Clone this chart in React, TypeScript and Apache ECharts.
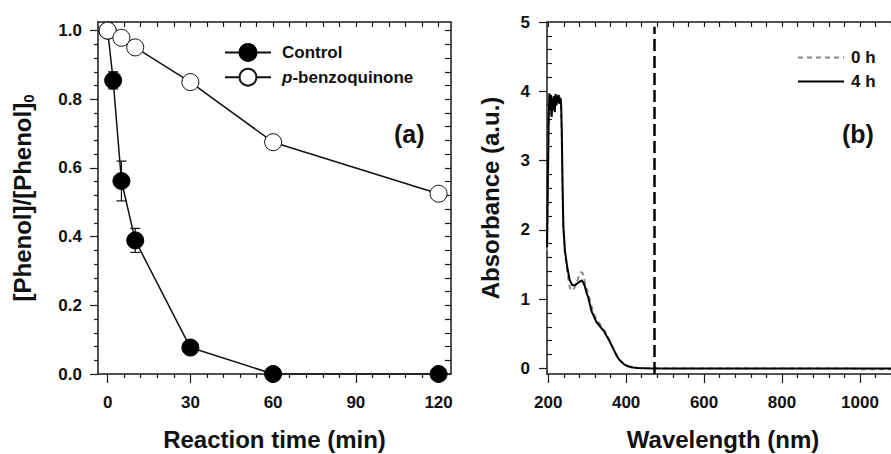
import React, { useEffect, useRef } from 'react';
import * as echarts from 'echarts';

// ---------- Panel (a) data ----------
const controlTime = [0, 2, 5, 10, 30, 60, 120];
const controlValues = [1.0, 0.855, 0.562, 0.389, 0.077, 0.0, 0.0];
const controlErrors = [0, 0.025, 0.058, 0.035, 0, 0, 0];
const pbqTime = [0, 5, 10, 30, 60, 120];
const pbqValues = [1.0, 0.979, 0.951, 0.85, 0.675, 0.525];

const timeMajorTicks = [0, 30, 60, 90, 120];
const timeMinorTicks = [6, 12, 18, 24, 36, 42, 48, 54, 66, 72, 78, 84, 96, 102, 108, 114];
const timeTopTicks = [0, 6, 12, 18, 24, 30, 36, 42, 48, 54, 60, 66, 72, 78, 84, 90, 96, 102, 108, 114, 120];
const ratioMajorTicks = [0, 0.2, 0.4, 0.6, 0.8, 1.0];
const ratioMinorTicks = [0.04, 0.08, 0.12, 0.16, 0.24, 0.28, 0.32, 0.36, 0.44, 0.48, 0.52, 0.56, 0.64, 0.68, 0.72, 0.76, 0.84, 0.88, 0.92, 0.96];
const ratioAllTicks = [0, 0.04, 0.08, 0.12, 0.16, 0.2, 0.24, 0.28, 0.32, 0.36, 0.4, 0.44, 0.48, 0.52, 0.56, 0.6, 0.64, 0.68, 0.72, 0.76, 0.8, 0.84, 0.88, 0.92, 0.96, 1.0];

// ---------- Panel (b) data ----------
const wavelength0h = [197, 199, 201, 203, 205, 207, 209, 211, 213, 215, 217, 219, 221, 223, 225, 227, 229, 231, 233, 235, 237, 239, 243, 249, 255, 260, 266, 272, 278, 284, 288, 292, 297, 303, 311, 318, 324, 330, 337, 344, 350, 357, 363, 370, 376, 382, 389, 395, 401, 410, 420, 440, 500, 600, 700, 800, 900, 980, 1000, 1100];
const absorbance0h = [1.70, 2.5, 3.4, 3.92, 3.65, 3.90, 3.68, 3.95, 3.70, 3.90, 3.75, 3.92, 3.78, 3.95, 3.82, 3.92, 3.85, 3.92, 3.80, 3.30, 2.55, 2.0, 1.68, 1.40, 1.18, 1.12, 1.15, 1.22, 1.32, 1.39, 1.38, 1.30, 1.18, 1.08, 0.90, 0.78, 0.71, 0.66, 0.61, 0.55, 0.49, 0.41, 0.34, 0.26, 0.19, 0.13, 0.09, 0.06, 0.04, 0.02, 0.01, 0.003, 0, 0, 0, 0, 0, 0, -0.01, -0.012];
const wavelength4h = [197, 199, 201, 203, 205, 207, 209, 211, 213, 215, 217, 219, 221, 223, 225, 227, 229, 231, 233, 235, 237, 239, 243, 249, 255, 262, 268, 273, 280, 286, 290, 294, 298, 303, 311, 318, 324, 330, 337, 344, 350, 357, 363, 370, 376, 382, 389, 395, 401, 410, 418, 430, 450, 500, 600, 700, 800, 900, 1000, 1100];
const absorbance4h = [1.75, 2.6, 3.5, 3.97, 3.72, 3.95, 3.63, 3.90, 3.74, 3.93, 3.70, 3.96, 3.80, 3.93, 3.84, 3.95, 3.82, 3.90, 3.86, 3.40, 2.60, 2.05, 1.70, 1.46, 1.28, 1.20, 1.20, 1.22, 1.25, 1.27, 1.24, 1.19, 1.10, 1.02, 0.83, 0.74, 0.67, 0.63, 0.58, 0.53, 0.47, 0.40, 0.33, 0.25, 0.18, 0.13, 0.09, 0.06, 0.04, 0.025, 0.015, 0.008, 0.003, 0, 0, 0, 0, 0, 0, 0];
const markerWavelength = 471;

const waveMajorTicks = [200, 400, 600, 800, 1000];
const waveMinorTicks = [240, 280, 320, 360, 440, 480, 520, 560, 640, 680, 720, 760, 840, 880, 920, 960, 1040, 1080];
const waveTopTicks = [200, 240, 280, 320, 360, 400, 440, 480, 520, 560, 600, 640, 680, 720, 760, 800, 840, 880, 920, 960, 1000, 1040, 1080];
const absMajorTicks = [0, 1, 2, 3, 4, 5];
const absMinorTicks = [0.2, 0.4, 0.6, 0.8, 1.2, 1.4, 1.6, 1.8, 2.2, 2.4, 2.6, 2.8, 3.2, 3.4, 3.6, 3.8, 4.2, 4.4, 4.6, 4.8];

const FONT = '"Liberation Sans", Arial, Helvetica, sans-serif';
const AX = '#1a1a1a';

function tickOnlyAxis(gridIndex: number, position: string, min: number, max: number, ticks: number[], length: number, inside: boolean, showLine: boolean) {
  return {
    type: 'value',
    gridIndex,
    position,
    min,
    max,
    axisLine: { show: showLine, onZero: false, lineStyle: { color: AX, width: 1.5 } },
    axisTick: { show: true, inside, length, customValues: ticks, lineStyle: { color: AX, width: 1.2 } },
    axisLabel: { show: false },
    splitLine: { show: false },
  };
}

export default function App() {
  const ref = useRef<HTMLDivElement>(null);

  useEffect(() => {
    document.body.style.margin = '0';
    if (!ref.current) return;
    const chart = echarts.init(ref.current, undefined, { renderer: 'svg' });

    const labelStyle = { fontFamily: FONT, fontWeight: 'bold', fontSize: 17, color: '#111' };
    const nameStyle = { fontFamily: FONT, fontWeight: 'bold', fontSize: 24, color: '#111' };

    const option: any = {
      animation: false,
      backgroundColor: '#ffffff',
      grid: [
        { left: 98, top: 22, width: 353, height: 352, containLabel: false, outerBoundsMode: 'none' },
        { left: 547, top: 22, width: 352, height: 352, containLabel: false, outerBoundsMode: 'none' },
      ],
      xAxis: [
        {
          type: 'value', gridIndex: 0, position: 'bottom', min: -3.5, max: 124.5,
          name: 'Reaction time (min)', nameLocation: 'middle', nameGap: 53, nameTextStyle: nameStyle,
          axisLine: { show: true, onZero: false, lineStyle: { color: AX, width: 1.5 } },
          axisTick: { show: true, inside: false, length: 9, customValues: timeMajorTicks, lineStyle: { color: AX, width: 1.2 } },
          axisLabel: { show: true, margin: 20, customValues: timeMajorTicks, formatter: (v: number) => String(v), ...labelStyle },
          splitLine: { show: false },
        },
        tickOnlyAxis(0, 'bottom', -3.5, 124.5, timeMinorTicks, 4, false, false),
        tickOnlyAxis(0, 'top', -3.5, 124.5, timeTopTicks, 5, true, true),
        {
          type: 'value', gridIndex: 1, position: 'bottom', min: 197, max: 1100,
          name: 'Wavelength (nm)', nameLocation: 'middle', nameGap: 53, nameTextStyle: nameStyle,
          axisLine: { show: true, onZero: false, lineStyle: { color: AX, width: 1.5 } },
          axisTick: { show: true, inside: false, length: 9, customValues: waveMajorTicks, lineStyle: { color: AX, width: 1.2 } },
          axisLabel: { show: true, margin: 20, customValues: waveMajorTicks, formatter: (v: number) => String(v), ...labelStyle },
          splitLine: { show: false },
        },
        tickOnlyAxis(1, 'bottom', 197, 1100, waveMinorTicks, 4, false, false),
        tickOnlyAxis(1, 'top', 197, 1100, waveTopTicks, 5, true, true),
      ],
      yAxis: [
        {
          type: 'value', gridIndex: 0, position: 'left', min: 0, max: 1.025,
          name: '[Phenol]/[Phenol]{sub|0}', nameLocation: 'middle', nameGap: 62,
          nameTextStyle: { ...nameStyle, rich: { sub: { fontFamily: FONT, fontWeight: 'bold', fontSize: 15, color: '#111', padding: [12, 0, 0, 0] } } },
          axisLine: { show: true, onZero: false, lineStyle: { color: AX, width: 1.5 } },
          axisTick: { show: true, inside: false, length: 8, customValues: ratioMajorTicks, lineStyle: { color: AX, width: 1.2 } },
          axisLabel: { show: true, margin: 16, customValues: ratioMajorTicks, formatter: (v: number) => v.toFixed(1), ...labelStyle },
          splitLine: { show: false },
        },
        tickOnlyAxis(0, 'left', 0, 1.025, ratioMinorTicks, 4, false, false),
        tickOnlyAxis(0, 'right', 0, 1.025, ratioAllTicks, 6, true, true),
        {
          type: 'value', gridIndex: 1, position: 'left', min: -0.08, max: 5,
          name: 'Absorbance (a.u.)', nameLocation: 'middle', nameGap: 45, nameTextStyle: nameStyle,
          axisLine: { show: true, onZero: false, lineStyle: { color: AX, width: 1.5 } },
          axisTick: { show: true, inside: false, length: 8, customValues: absMajorTicks, lineStyle: { color: AX, width: 1.2 } },
          axisLabel: { show: true, margin: 17, customValues: absMajorTicks, formatter: (v: number) => String(v), ...labelStyle },
          splitLine: { show: false },
        },
        tickOnlyAxis(1, 'left', -0.08, 5, absMinorTicks, 5, true, false),
        tickOnlyAxis(1, 'right', -0.08, 5, absMajorTicks, 6, true, true),
      ],
      legend: [
        {
          orient: 'vertical', left: 219, top: 38, itemWidth: 46, itemHeight: 21, itemGap: 6,
          data: ['Control', 'p-benzoquinone'],
          formatter: (name: string) => (name === 'p-benzoquinone' ? '{i|p}-benzoquinone' : name),
          textStyle: {
            fontFamily: FONT, fontWeight: 'bold', fontSize: 17, color: '#111', padding: [0, 0, 0, 6],
            rich: { i: { fontFamily: FONT, fontWeight: 'bold', fontStyle: 'italic', fontSize: 17, color: '#111' } },
          },
          selectedMode: false,
        },
        {
          orient: 'vertical', left: 792, top: 44, itemWidth: 46, itemHeight: 14, itemGap: 7,
          data: ['0 h', '4 h'],
          itemStyle: { opacity: 0 },
          textStyle: { fontFamily: FONT, fontWeight: 'bold', fontSize: 17, color: '#111', padding: [0, 0, 0, 2] },
          selectedMode: false,
        },
      ],
      graphic: [
        { type: 'text', left: 394, top: 121, style: { text: '(a)', fontFamily: FONT, fontWeight: 'bold', fontSize: 25, fill: '#111' } },
        { type: 'text', left: 842, top: 121, style: { text: '(b)', fontFamily: FONT, fontWeight: 'bold', fontSize: 25, fill: '#111' } },
      ],
      series: [
        {
          type: 'custom', name: 'errors', xAxisIndex: 0, yAxisIndex: 0, z: 1, silent: true,
          data: controlTime.map((t, i) => [t, controlValues[i], controlErrors[i]]),
          renderItem: (params: any, api: any) => {
            const x = api.value(0);
            const y = api.value(1);
            const e = api.value(2);
            if (!e) return null;
            const top = api.coord([x, y + e]);
            const bot = api.coord([x, y - e]);
            const st = { stroke: '#111', lineWidth: 1.2 };
            return {
              type: 'group',
              children: [
                { type: 'line', shape: { x1: top[0], y1: top[1], x2: bot[0], y2: bot[1] }, style: st },
                { type: 'line', shape: { x1: top[0] - 5, y1: top[1], x2: top[0] + 5, y2: top[1] }, style: st },
                { type: 'line', shape: { x1: bot[0] - 5, y1: bot[1], x2: bot[0] + 5, y2: bot[1] }, style: st },
              ],
            };
          },
        },
        {
          type: 'line', name: 'Control', xAxisIndex: 0, yAxisIndex: 0, z: 3,
          data: controlTime.map((t, i) => [t, controlValues[i]]),
          symbol: 'circle', symbolSize: 17,
          lineStyle: { color: '#111', width: 1.5 },
          itemStyle: { color: '#000', borderColor: '#000', borderWidth: 1 },
        },
        {
          type: 'line', name: 'p-benzoquinone', xAxisIndex: 0, yAxisIndex: 0, z: 4,
          data: pbqTime.map((t, i) => [t, pbqValues[i]]),
          symbol: 'circle', symbolSize: 17,
          lineStyle: { color: '#111', width: 1.5 },
          itemStyle: { color: '#ffffff', borderColor: '#111', borderWidth: 1 },
        },
        {
          type: 'line', name: '0 h', xAxisIndex: 3, yAxisIndex: 3, z: 3,
          data: wavelength0h.map((w, i) => [w, absorbance0h[i]]),
          symbol: 'none', showSymbol: false,
          lineStyle: { color: '#8a8a8a', width: 2, type: [5, 4] },
          itemStyle: { color: '#8a8a8a' },
        },
        {
          type: 'line', name: '4 h', xAxisIndex: 3, yAxisIndex: 3, z: 4,
          data: wavelength4h.map((w, i) => [w, absorbance4h[i]]),
          symbol: 'none', showSymbol: false,
          lineStyle: { color: '#000', width: 2 },
          itemStyle: { color: '#000' },
          markLine: {
            silent: true, symbol: 'none', label: { show: false },
            lineStyle: { color: '#000', width: 2.5, type: [12, 5] },
            data: [[{ coord: [markerWavelength, -0.08] }, { coord: [markerWavelength, 4.93] }]],
          },
        },
      ],
    };

    chart.setOption(option);
    return () => chart.dispose();
  }, []);

  return <div ref={ref} style={{ width: 891, height: 454 }} />;
}
